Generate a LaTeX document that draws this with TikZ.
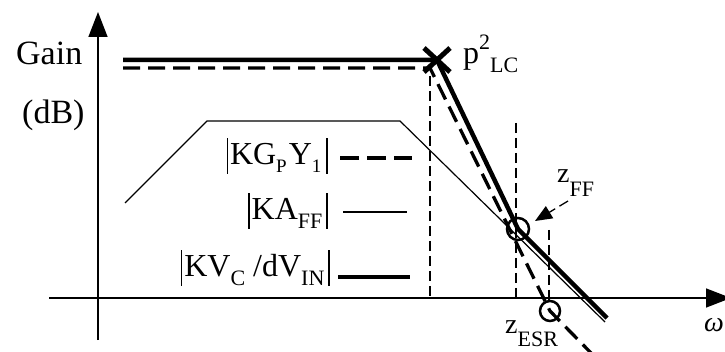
\documentclass[tikz,border=0pt]{standalone}
\usepackage{fontspec}
\setmainfont{Liberation Serif}
\usetikzlibrary{arrows.meta,calc}
\newcommand\mysub[2][0.28em]{\raisebox{-#1}{\fontsize{22}{22}\selectfont #2}}
\newcommand\mysubs[1]{\raisebox{-0.25em}{\fontsize{19}{19}\selectfont #1}}
\newcommand\mysup[1]{\raisebox{0.45em}{\fontsize{22}{22}\selectfont #1}}
\newcommand\mybar{\rule[-9pt]{1.4pt}{36pt}}
\begin{document}
\begin{tikzpicture}[x=1pt,y=-1pt,
  axis/.style={line width=1.5pt,-{Triangle[length=25pt,width=19pt]}},
  thickline/.style={line width=4.5pt},
  dashline/.style={line width=3.3pt,dash pattern=on 17pt off 8pt},
  thinline/.style={line width=1.2pt},
  guide/.style={line width=1.3pt,dash pattern=on 10pt off 5pt},
  marker/.style={line width=2.5pt},
  big/.style={inner sep=0pt,font=\fontsize{34}{36}\selectfont},
  lbl/.style={inner sep=0pt,font=\fontsize{32}{34}\selectfont},
  slbl/.style={inner sep=0pt,font=\fontsize{28}{30}\selectfont}]
\useasboundingbox (0,0) rectangle (725,352);
% axes
\coordinate (xs) at (49,298);
\coordinate (xe) at (731,298);
\coordinate (yb) at (98,340);
\coordinate (yt) at (98,12);
\draw[axis] (xs) -- (xe);
\draw[axis] (yb) -- (yt);
\node[big,anchor=base west] (gain) at (16,65) {Gain};
\node[big,anchor=base west] (db) at (22,124) {(dB)};
\node[slbl,anchor=base west] (omega) at (704,332) {\textit{ω}};
% key points
\coordinate (t0) at (123,60);
\coordinate (P) at (437,60);
\coordinate (ZFF) at (518,229);
\coordinate (t1) at (607,318);
\coordinate (d0) at (123,68);
\coordinate (d1) at (430,68);
\coordinate (ZESR) at (550,311);
\coordinate (d2) at (592,354);
\coordinate (k0) at (125,203);
\coordinate (k1) at (207,121);
\coordinate (k2) at (400,121);
\coordinate (k3) at (605,322);
% guides
\coordinate (g1t) at (430,76);
\coordinate (g1b) at (430,298);
\coordinate (g2t) at (516,123);
\coordinate (g2b) at (516,298);
\coordinate (g3t) at (549,230);
\coordinate (g3b) at (549,304);
\draw[guide] (g1t) -- (g1b);
\draw[guide] (g2t) -- (g2b);
\draw[guide] (g3t) -- (g3b);
% curves
\draw[thinline] (k0) -- (k1) -- (k2) -- (k3);
\draw[dashline] (d0) -- (d1) -- (ZESR) -- (d2);
\draw[thickline] (t0) -- (P) -- (ZFF) -- (t1);
% markers
\coordinate (xa) at ($(P)+(-13,-12)$);
\coordinate (xb) at ($(P)+(13,12)$);
\coordinate (xc) at ($(P)+(-13,12)$);
\coordinate (xd) at ($(P)+(13,-12)$);
\draw[line width=5pt] (xa) -- (xb);
\draw[line width=5pt] (xc) -- (xd);
\draw[marker] (ZFF) circle (11);
\draw[marker] (ZESR) circle (10);
% labels
\node[lbl,anchor=base west] (plc) at (463,64) {p\mysup{2}\mysub{LC}};
\node[slbl,anchor=base west] (zff) at (557,183) {z\mysub[0.5em]{FF}};
\node[slbl,anchor=base west] (zesr) at (505,334) {z\mysub[0.45em]{ESR}};
\coordinate (za) at (568,201);
\coordinate (zt) at (535,221);
\draw[guide,-{Triangle[length=17pt,width=14pt]}] (za) -- (zt);
% legend
\node[lbl,anchor=base east] (leg1) at (328,165) {\mybar\hspace{2pt}KG\mysubs{P}\hspace{2pt}Y\mysubs{1}\hspace{5pt}\mybar};
\node[lbl,anchor=base east] (leg2) at (328,220) {\mybar\hspace{2pt}KA\mysub{FF}\hspace{4pt}\mybar};
\node[lbl,anchor=base east] (leg3) at (330,277) {\mybar\hspace{2pt}KV\mysub{C} /dV\mysub{IN}\hspace{4pt}\mybar};
\coordinate (l1a) at (340,158); \coordinate (l1b) at (412,158);
\coordinate (l2a) at (343,212); \coordinate (l2b) at (407,212);
\coordinate (l3a) at (338,277); \coordinate (l3b) at (410,277);
\draw[line width=3.5pt,dash pattern=on 19pt off 8pt] (l1a) -- (l1b);
\draw[thinline] (l2a) -- (l2b);
\draw[thickline] (l3a) -- (l3b);
\end{tikzpicture}
\end{document}
